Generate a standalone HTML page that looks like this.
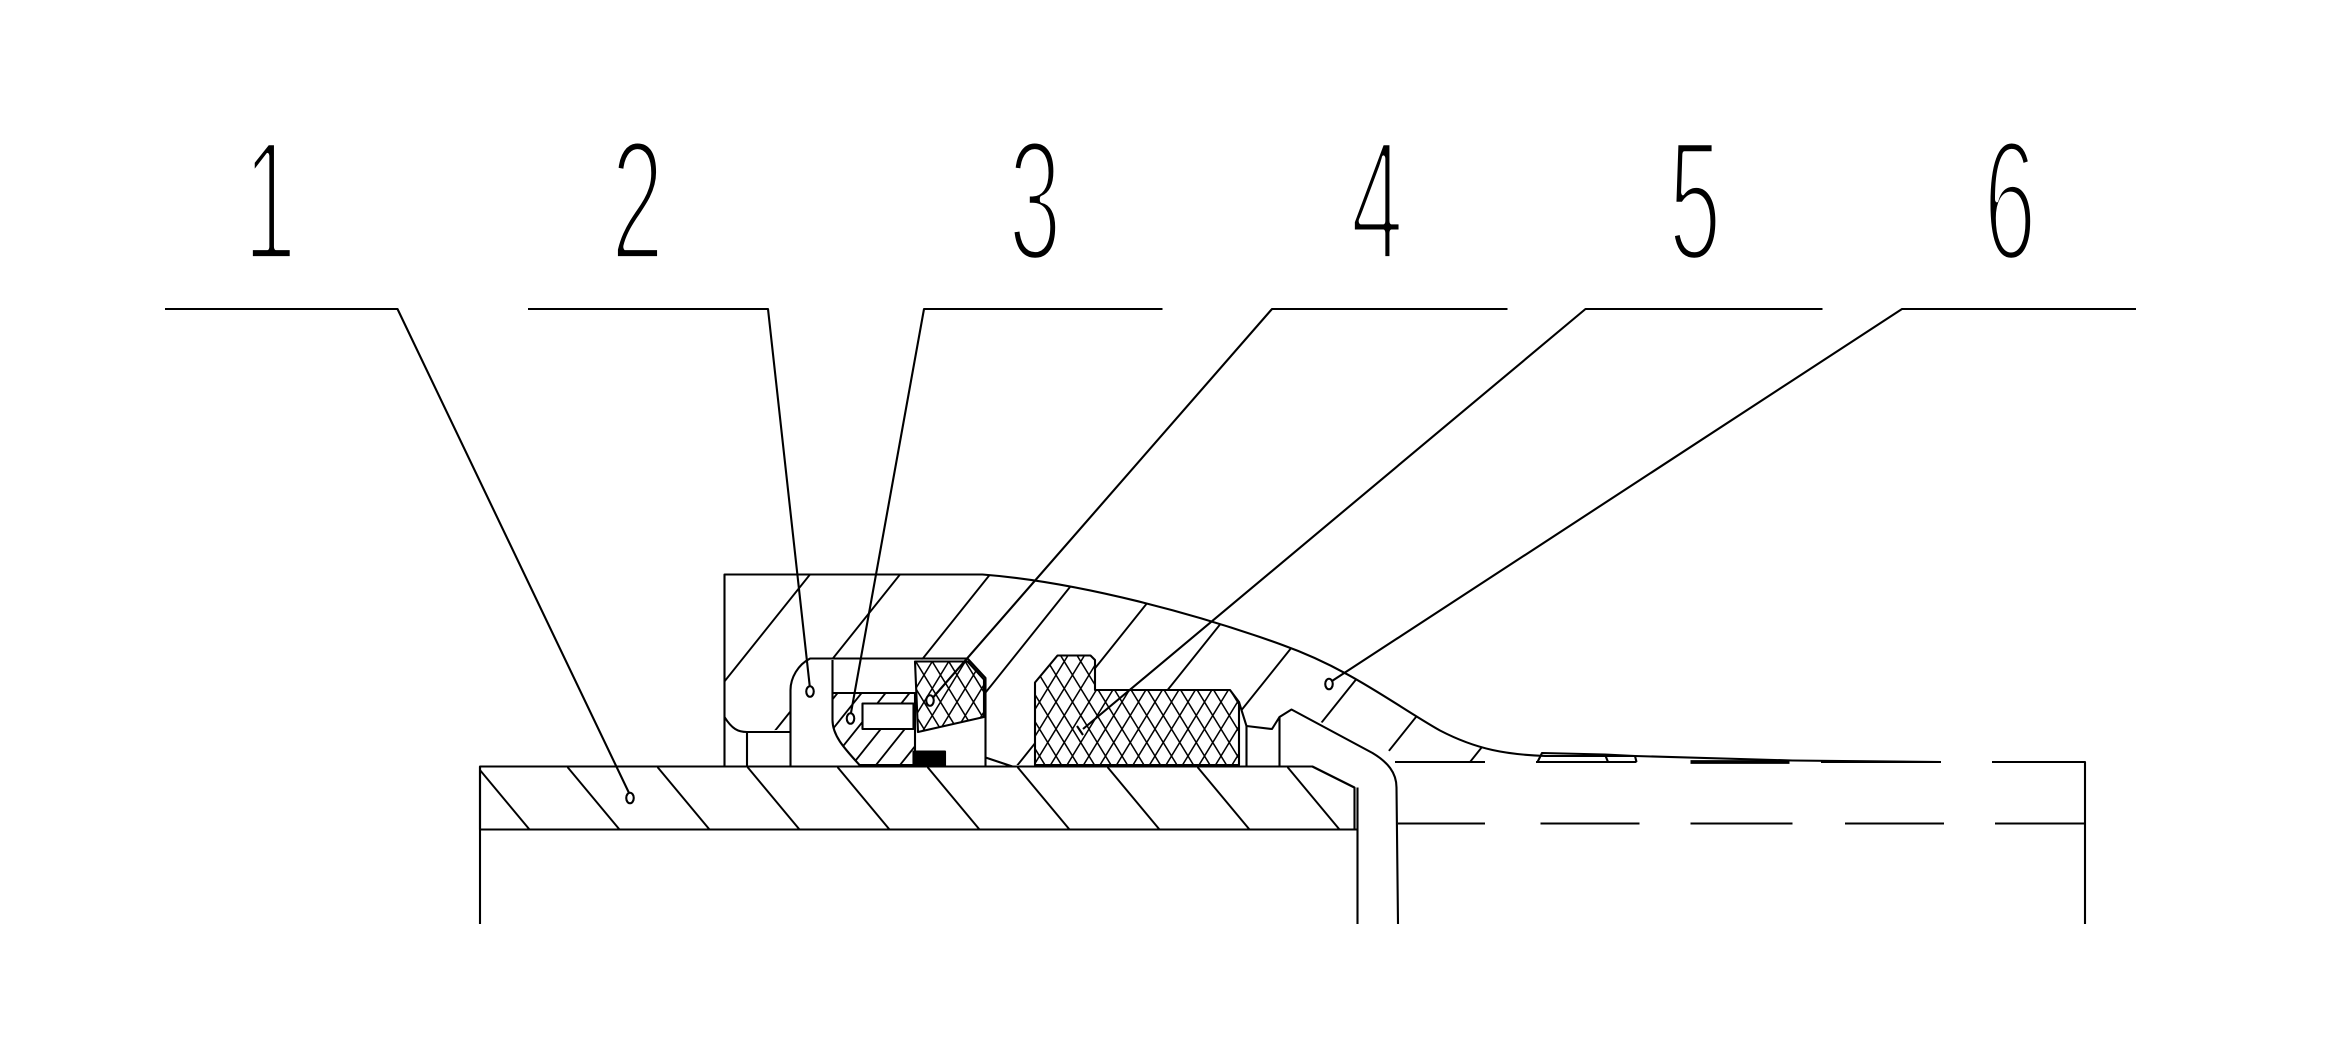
<!DOCTYPE html>
<html><head><meta charset="utf-8"><style>html,body{margin:0;padding:0;background:#fff}svg{display:block}</style></head>
<body>
<svg width="2352" height="1052" viewBox="0 0 1568 701.33" xmlns="http://www.w3.org/2000/svg">
<defs>
<pattern id="hg" patternUnits="userSpaceOnUse" width="60" height="75" x="0" y="383">
<path d="M0,75 L60,0 M-6,7.5 L6,-7.5 M54,82.5 L66,67.5" stroke="#000" stroke-width="1.3"/>
</pattern>
<pattern id="hs" patternUnits="userSpaceOnUse" width="60" height="42" x="318" y="511">
<path d="M0,0 L35,42" stroke="#000" stroke-width="1.3"/>
</pattern>
<pattern id="h3" patternUnits="userSpaceOnUse" width="16" height="20">
<path d="M0,20 L16,0 M-4,5 L4,-5 M12,25 L20,15" stroke="#000" stroke-width="1.2"/>
</pattern>
<pattern id="hx" patternUnits="userSpaceOnUse" width="11" height="18">
<path d="M0,0 L11,18 M11,0 L0,18 M-5.5,9 L0,18 M5.5,-9 L11,0 M16.5,9 L11,18 M5.5,27 L0,18" stroke="#000" stroke-width="1"/>
</pattern>
</defs>
<g fill="none" stroke="#000" stroke-width="1.4" stroke-linejoin="round">
<!-- labels -->
<g font-family="Liberation Sans, sans-serif" font-size="114" fill="#000" stroke="#fff" stroke-width="4.5" text-anchor="middle">
<text transform="translate(180,173) scale(0.55,1)">1</text>
<text transform="translate(425,173) scale(0.55,1)">2</text>
<text transform="translate(690,173) scale(0.55,1)">3</text>
<text transform="translate(918,173) scale(0.55,1)">4</text>
<text transform="translate(1130,173) scale(0.55,1)">5</text>
<text transform="translate(1340,173) scale(0.55,1)">6</text>
</g>
<!-- leaders -->
<path d="M110,206 L265,206 L420,530"/>
<path d="M352,206 L512,206 L540,459"/>
<path d="M775,206 L616,206 L567,477"/>
<path d="M1005,206 L848,206 L622,465"/>
<path d="M1215,206 L1057,206 L722,486"/>
<path d="M1424,206 L1268,206 L888,454"/>
<!-- shaft -->
<path d="M320,511 L875,511 L903,525 L903,553 L320,553 Z" fill="url(#hs)"/>
<path d="M320,511 L320,616 M905,525 L905,616 M320,553 L905,553"/>
<!-- gland -->
<path d="M483,511 L483,383 L655,383 C720,388 800,410 855,430 C900,446 930,470 960,487 C985,500 1005,503 1030,504 L990,508 L931,508 C928,500 924,499 919,498 L861,473 L853,478 L848,486 L831,484 L826,468 L822,460 L730,460 L730,440 L727,437 L705,437 L690,455 L690,510 L657,510 L657,452 L645,440 L540,439 C530,445 527,455 527,460 L527,486 L498,488 L483,480 Z" fill="url(#hg)" stroke="none"/>
<path d="M483,511 L483,383 L655,383 C720,388 800,410 855,430 C900,446 930,470 960,487 C985,500 1005,503 1030,504 L1090,504 L1195,507 L1294,508"/>
<path d="M483,478 C488,486 492,488 498,488 L527,488 M498,488 L498,511 M527,511 L527,460 C527,452 532,443 540,439 L645,439 L657,452 L657,511"/>
<path d="M826,468 L831,484 L848,486 L853,478 L861,473 L915,502 C925,508 931,515 931,525 L932,616"/>
<path d="M831,484 L831,511 M853,478 L853,511"/>
<path d="M657,505 L675,511 L690,511"/>
<!-- right lines -->
<path d="M930,508 L990,508 M1024,508 L1091,508 M1214,508 L1294,508 M1328,508 L1390,508 L1390,616"/>
<path d="M1127,508 L1193,508" stroke-width="2.5"/>
<path d="M1025,508 L1028,502 L1070,503 L1072,508 M1070,503 L1090,504 L1091,508"/>
<path d="M932,549 L990,549 M1027,549 L1093,549 M1127,549 L1195,549 M1230,549 L1296,549 M1330,549 L1390,549"/>
<!-- cavity cross piece -->
<path d="M610,441 L645,441 L656,453 L656,478 L612,488 Z" fill="url(#hx)"/>
<!-- part 3 -->
<path d="M555,462 L610,462 L610,510 L573,510 C562,498 555,490 555,480 Z" fill="url(#h3)"/>
<path d="M575,469 L609,469 L609,486 L575,486 Z" fill="#fff"/>
<path d="M555,440 L555,462"/>
<rect x="609" y="501" width="21" height="10" fill="#000"/>
<!-- part 5 -->
<path d="M690,510 L690,455 L705,437 L727,437 L730,440 L730,460 L820,460 L826,468 L826,510 Z" fill="url(#hx)"/>
<!-- dots -->
<g fill="#fff">
<ellipse cx="420" cy="532" rx="2.5" ry="3.5"/>
<ellipse cx="540" cy="461" rx="2.5" ry="3.5"/>
<ellipse cx="567" cy="479" rx="2.5" ry="3.5"/>
<ellipse cx="620" cy="467" rx="2.5" ry="3.5"/>
<ellipse cx="886" cy="456" rx="2.5" ry="3.5"/>
</g>
<path d="M718,484 L722,490"/>
<path d="M320,511 L875,511 L903,525"/>
</g>
</svg>
</body></html>
